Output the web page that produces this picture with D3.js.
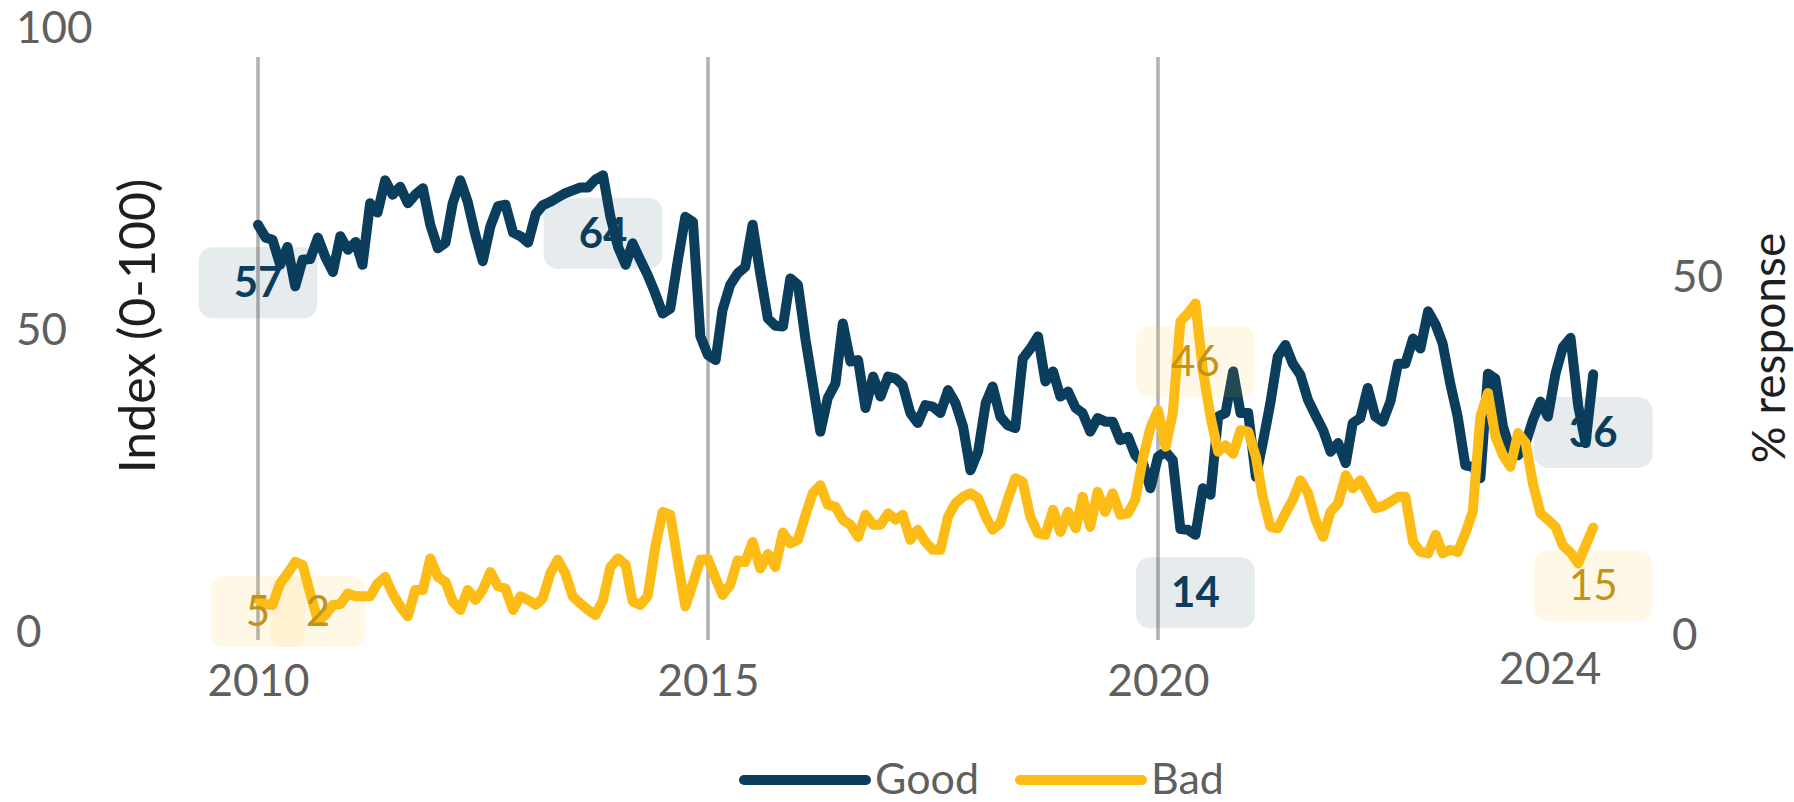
<!DOCTYPE html>
<html>
<head>
<meta charset="utf-8">
<script src="https://cdn.jsdelivr.net/npm/d3@7"></script>
<style>
  body { margin: 0; background: #fff; }
  svg { display: block; font-family: Lato, "Open Sans", sans-serif; }
</style>
</head>
<body>
<svg id="chart" width="1794" height="802"></svg>
<script>
// monthly survey, Jan 2010 onwards (% response)
const firstMonth = new Date(2010, 0, 1);
const good = [
  57.3, 55.5, 55.2, 51.7, 54.2, 48.7, 52.4, 52.5, 55.5, 52.8, 50.7, 55.7,
  53.8, 54.9, 51.7, 60.3, 59.0, 63.5, 61.5, 62.6, 60.3, 61.5, 62.4, 57.3,
  54.0, 54.8, 60.3, 63.5, 60.5, 55.9, 52.2, 57.1, 59.9, 60.1, 56.2, 55.7,
  54.8, 58.8, 60.0, 60.5, 61.1, 61.7, 62.1, 62.5, 62.5, 63.6, 64.2, 58.4,
  54.2, 51.7, 54.7, 52.4, 50.3, 47.7, 44.9, 45.6, 52.4, 58.4, 57.7, 41.7,
  39.1, 38.4, 45.4, 48.9, 50.5, 51.4, 57.3, 50.5, 44.2, 43.2, 43.1, 49.8,
  48.9, 41.2, 35.1, 28.4, 33.1, 35.1, 43.5, 38.2, 38.4, 31.7, 36.1, 33.3,
  36.1, 35.8, 34.9, 31.0, 29.6, 32.1, 31.9, 31.0, 34.2, 32.4, 29.1, 23.0,
  25.6, 32.4, 34.7, 30.5, 29.3, 28.9, 38.6, 40.0, 41.7, 35.4, 36.8, 33.3,
  34.0, 31.7, 31.0, 28.4, 30.3, 29.8, 29.8, 27.2, 27.7, 25.1, 24.0, 20.5,
  24.9, 25.6, 24.4, 14.8, 14.7, 14.0, 20.5, 19.6, 30.5, 31.0, 36.8, 31.0,
  31.0, 22.1, 26.8, 32.4, 38.9, 40.5, 37.9, 36.3, 32.8, 30.7, 28.6, 25.6,
  26.8, 24.0, 29.6, 30.3, 34.5, 30.5, 29.8, 32.6, 37.9, 37.9, 41.4, 40.0,
  45.2, 43.3, 40.7, 35.1, 30.5, 23.7, 23.5, 21.9, 36.5, 35.8, 29.1, 25.8,
  25.1, 26.8, 30.0, 32.6, 30.5, 36.5, 40.2, 41.5, 32.0, 26.8, 36.4
];
const bad = [
  5.0, 4.3, 4.2, 7.2, 8.6, 10.2, 9.8, 5.8, 2.0, 2.8, 4.2, 4.3,
  5.8, 5.4, 5.4, 5.4, 7.2, 8.1, 5.8, 4.0, 2.6, 6.3, 6.3, 10.7,
  8.1, 7.4, 4.7, 3.5, 6.3, 4.9, 6.3, 8.8, 6.8, 6.5, 3.5, 5.4,
  4.9, 4.2, 5.1, 8.6, 10.5, 8.6, 5.4, 4.4, 3.5, 2.8, 4.9, 9.5,
  10.7, 9.8, 4.7, 4.2, 5.4, 12.3, 17.2, 16.8, 10.2, 4.0, 7.2, 10.5,
  10.6, 7.9, 5.6, 7.0, 10.4, 10.2, 13.0, 9.3, 11.3, 9.5, 14.3, 12.8,
  13.3, 16.8, 19.8, 20.9, 18.2, 17.9, 16.1, 15.4, 13.7, 16.8, 15.4, 15.4,
  17.0, 16.1, 16.8, 13.3, 14.7, 13.0, 11.9, 11.9, 16.5, 18.4, 19.3, 19.8,
  19.1, 16.5, 14.7, 15.6, 18.9, 21.9, 21.4, 16.5, 14.2, 14.0, 17.5, 14.4,
  17.2, 14.9, 19.3, 15.1, 20.0, 17.2, 19.8, 16.8, 17.0, 18.9, 24.7, 28.9,
  31.4, 26.3, 31.0, 43.8, 44.9, 46.3, 37.0, 30.5, 25.6, 26.5, 25.3, 28.6,
  28.4, 24.9, 19.3, 15.1, 14.9, 17.0, 18.9, 21.6, 19.8, 16.1, 13.7, 17.2,
  18.4, 22.3, 20.5, 21.6, 19.8, 17.7, 18.0, 18.6, 19.3, 19.3, 13.0, 11.6,
  11.4, 14.0, 11.4, 11.9, 11.6, 14.2, 17.2, 30.5, 33.8, 27.7, 25.1, 23.5,
  28.2, 26.8, 21.2, 17.0, 16.1, 15.1, 12.5, 11.5, 10.0, 12.5, 15.0
];
const seriesNames = ['Good', 'Bad'];
const seriesColors = ['#0b3d5c', '#fdbb16'];
const labelColors = ['#0b3d5c', '#c39414'];
const leftTicks = [0, 50, 100];
const rightTicks = [0, 50];
const gridYears = [2010, 2015, 2020];
const lastYearLabel = '2024';

const svg = d3.select('svg#chart');
const tickFont = 44;
const grey = '#5f5f5f';
const lineWidth = 10;

const dates = good.map((d, i) => d3.timeMonth.offset(firstMonth, i));
const x = d3.scaleTime()
  .domain([new Date(2010, 0, 1), new Date(2020, 0, 1)])
  .range([258, 1158]);
const yLeft = d3.scaleLinear().domain([0, 100]).range([632, 28]);
const yRight = d3.scaleLinear().domain([0, 50]).range([635, 277]);

// year grid lines
svg.append('g').selectAll('line')
  .data(gridYears)
  .join('line')
  .attr('x1', (d) => x(new Date(d, 0, 1)))
  .attr('x2', (d) => x(new Date(d, 0, 1)))
  .attr('y1', 57)
  .attr('y2', 640)
  .attr('stroke', '#b0b0b0')
  .attr('stroke-width', 3.5);

function styleAxis(g) {
  g.select('.domain').remove();
  g.selectAll('text')
    .attr('font-size', tickFont)
    .attr('fill', grey)
    .attr('font-family', 'Lato, "Open Sans", sans-serif');
}

svg.append('g')
  .attr('transform', 'translate(16,0)')
  .call(d3.axisRight(yLeft).tickValues(leftTicks).tickSize(0).tickPadding(0))
  .call(styleAxis);

svg.append('g')
  .attr('transform', 'translate(1672,0)')
  .call(d3.axisRight(yRight).tickValues(rightTicks).tickSize(0).tickPadding(0))
  .call(styleAxis);

svg.append('g')
  .attr('transform', 'translate(0,681)')
  .call(d3.axisBottom(x)
    .tickValues(gridYears.map((d) => new Date(d, 0, 1)))
    .tickFormat(d3.timeFormat('%Y'))
    .tickSize(0).tickPadding(0))
  .call(styleAxis)
  .selectAll('text').attr('dy', '0.35em');

svg.append('text')
  .attr('x', x(dates[dates.length - 1]) + 8)
  .attr('y', 669)
  .attr('dy', '0.35em')
  .attr('text-anchor', 'end')
  .attr('font-size', tickFont)
  .attr('fill', grey)
  .text(lastYearLabel);

// axis titles
svg.append('text')
  .attr('transform', 'translate(137,326) rotate(-90)')
  .attr('text-anchor', 'middle')
  .attr('dy', '0.35em')
  .attr('font-size', 50)
  .attr('fill', '#1e1e1e')
  .text('Index (0-100)');

svg.append('text')
  .attr('transform', 'translate(1769,348) rotate(-90)')
  .attr('text-anchor', 'middle')
  .attr('dy', '0.35em')
  .attr('font-size', 46)
  .attr('fill', '#1e1e1e')
  .text('% response');

// lines
const line = d3.line()
  .x((d, i) => x(dates[i]))
  .y((d) => yRight(d));

[good, bad].forEach((values, s) => {
  svg.append('path')
    .datum(values)
    .attr('fill', 'none')
    .attr('stroke', seriesColors[s])
    .attr('stroke-width', lineWidth)
    .attr('stroke-linejoin', 'round')
    .attr('stroke-linecap', 'round')
    .attr('d', line);
});

// value call-outs: first, max, min, last of each series
const callouts = [];
[good, bad].forEach((values, s) => {
  const idx = [0, d3.maxIndex(values), d3.minIndex(values), values.length - 1];
  idx.forEach((i) => callouts.push({ s, i, v: values[i] }));
});

const boxH = 71;
const maxCy = 647 - boxH / 2;
const calloutG = svg.append('g');
callouts.forEach((c) => {
  const g = calloutG.append('g');
  const cx = x(dates[c.i]);
  const cy = Math.min(yRight(c.v) + 58, maxCy);
  const rect = g.append('rect');
  const t = g.append('text')
    .attr('x', cx)
    .attr('y', cy)
    .attr('dy', '0.35em')
    .attr('text-anchor', 'middle')
    .attr('font-size', 42)
    .attr('font-weight', c.s === 0 ? 700 : 400)
    .attr('fill', labelColors[c.s])
    .text(d3.format('.0f')(c.v));
  const w = t.node().getComputedTextLength() + 70;
  rect
    .attr('x', cx - w / 2)
    .attr('y', cy - boxH / 2)
    .attr('width', w)
    .attr('height', boxH)
    .attr('rx', 14)
    .attr('fill', seriesColors[c.s])
    .attr('fill-opacity', 0.1);
});

// legend
const legend = svg.append('g').attr('transform', 'translate(0,780)');
const legendX = [744, 1020];
seriesNames.forEach((name, s) => {
  legend.append('line')
    .attr('x1', legendX[s])
    .attr('x2', legendX[s] + 122)
    .attr('stroke', seriesColors[s])
    .attr('stroke-width', lineWidth)
    .attr('stroke-linecap', 'round');
  legend.append('text')
    .attr('x', legendX[s] + 131)
    .attr('dy', '0.33em')
    .attr('font-size', 43)
    .attr('fill', grey)
    .text(name);
});
</script>
</body>
</html>
